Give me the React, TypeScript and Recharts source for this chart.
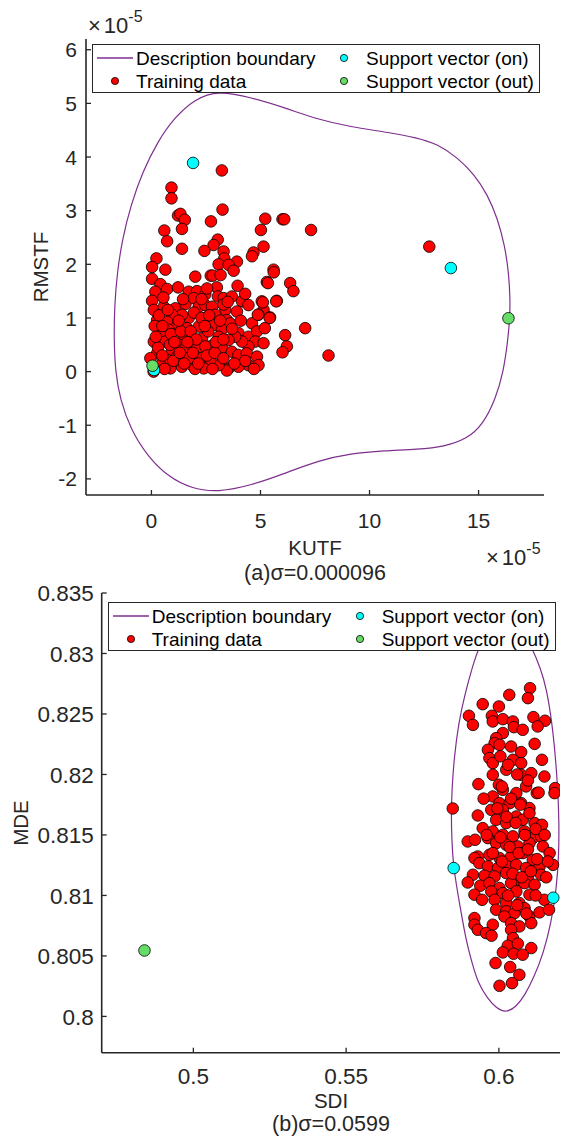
import React from 'react';
import { ScatterChart, Scatter, XAxis, YAxis, Legend } from 'recharts';

// ---- plot (a): KUTF vs RMSTF, both x1e-5 ----
const kutfTicks = [0, 5, 10, 15];
const rmstfTicks = [-2, -1, 0, 1, 2, 3, 4, 5, 6];

const trainA: number[][] = [
  [3.23, 3.75], [0.92, 3.43], [0.92, 3.23], [3.26, 3.02], [1.22, 2.91], [1.33, 2.94], [1.53, 2.83],
  [2.73, 2.8], [5.22, 2.85], [6.01, 2.84], [6.09, 2.84], [7.32, 2.64], [5.02, 2.64], [0.59, 2.63],
  [1.4, 2.66], [0.72, 2.43], [3.04, 2.46], [2.85, 2.36], [2.43, 2.25], [1.4, 2.29], [3.31, 2.24],
  [3.34, 2.11], [3.92, 2.05], [3.08, 2.0], [3.54, 1.99], [5.14, 2.33], [4.68, 2.22], [4.61, 2.15],
  [0.23, 2.11], [0.03, 1.95], [0.64, 1.9], [5.6, 1.9], [12.74, 2.33],
  [2.01, 1.77], [2.72, 1.79], [2.81, 1.79], [3.17, 1.8], [3.77, 1.88], [5.29, 1.67], [6.36, 1.65], [6.51, 1.5],
  [0.03, 1.73], [0.41, 1.63], [0.72, 1.54], [1.22, 1.57], [0.18, 1.49], [1.71, 1.49], [2.09, 1.5],
  [2.47, 1.44], [3.0, 1.57], [3.05, 1.4], [3.31, 1.37], [3.69, 1.4], [4.15, 1.31], [4.45, 1.24],
  [5.06, 1.31], [5.14, 1.15], [5.75, 1.32], [5.44, 1.01], [4.91, 1.06], [4.61, 0.9],
  [0.03, 1.32], [0.11, 1.15], [0.56, 1.21], [1.1, 1.18], [1.56, 1.26], [1.94, 1.37], [2.17, 1.21],
  [2.47, 1.24], [2.78, 1.21], [3.39, 1.15], [3.92, 1.12], [3.46, 0.96], [3.61, 0.9], [2.93, 1.06],
  [2.47, 1.0], [1.71, 1.0], [1.4, 1.06], [0.95, 1.06], [0.26, 0.96], [0.72, 0.93], [1.17, 0.84],
  [1.63, 0.81], [2.17, 0.84], [2.85, 0.87], [3.23, 0.78], [3.99, 0.72], [4.45, 0.65], [4.84, 0.75],
  [5.2, 0.81], [4.76, 0.56], [5.14, 0.53], [4.45, 0.47], [4.15, 0.56], [3.84, 0.65], [3.54, 0.59],
  [3.08, 0.65], [2.7, 0.47], [2.32, 0.62], [1.86, 0.62], [1.48, 0.65], [1.25, 0.5], [0.79, 0.78],
  [0.41, 0.68], [0.11, 0.56], [0.64, 0.56], [0.95, 0.4], [1.56, 0.44], [2.09, 0.44], [2.47, 0.47],
  [3.23, 0.44], [3.69, 0.37], [3.99, 0.31], [4.37, 0.34], [4.84, 0.28], [4.91, 0.12], [4.45, 0.12],
  [3.99, 0.09], [3.54, 0.06], [3.46, 0.02], [3.08, 0.12], [2.7, 0.22], [2.4, 0.06], [2.24, 0.25],
  [1.86, 0.12], [1.71, 0.25], [1.4, 0.09], [1.17, 0.28], [0.87, 0.06], [0.72, 0.22], [0.41, 0.12],
  [0.26, 0.34], [-0.05, 0.25],
  [6.13, 0.68], [6.21, 0.47], [6.01, 0.36], [7.05, 0.81], [8.12, 0.3],
  [5.72, 1.31], [5.11, 1.29], [5.42, 1.0], [4.88, 1.06], [5.34, 1.65], [5.61, 1.85],
  [0.3, 0.45], [0.5, 0.3], [0.6, 0.05], [0.85, 0.5], [1.0, 0.2], [1.3, 0.35], [1.5, 0.15], [1.9, 0.35],
  [2.0, 0.05], [2.55, 0.3], [2.8, 0.05], [2.9, 0.35], [3.3, 0.25], [0.15, 0.85], [0.5, 0.85], [0.9, 0.7],
  [1.35, 0.75], [1.8, 0.75], [2.05, 0.6], [2.6, 0.75], [2.95, 0.55], [3.3, 0.6], [0.35, 1.05], [0.75, 1.15],
  [1.25, 0.95], [1.95, 1.1], [2.3, 1.0], [2.65, 1.05], [3.15, 0.95], [3.3, 1.25], [0.55, 1.38], [1.45, 1.35],
  [2.55, 1.55], [2.3, 1.35], [3.7, 0.8], [4.1, 0.95], [4.3, 0.2], [3.8, 0.15], [4.7, 0.05], [2.15, 0.15],
  [1.05, 0.55], [0.1, 0.0], [0.2, 0.65], [1.65, 0.55], [2.45, 0.85], [3.5, 1.3], [3.95, 1.6], [4.3, 1.45],
];
const svOnA: number[][] = [[1.91, 3.89], [13.73, 1.93], [0.12, 0.03]];
const svOutA: number[][] = [[16.37, 0.995], [0.05, 0.11]];
const boundaryA: number[][] = [
  [3.051, 5.24], [4.577, 5.11], [6.102, 4.92], [7.628, 4.7], [9.153, 4.56], [10.679, 4.47],
  [12.204, 4.36], [13.12, 4.24], [14.035, 3.99], [14.798, 3.68], [15.408, 3.3], [15.866, 2.86],
  [16.2, 2.35], [16.38, 1.853], [16.45, 1.356], [16.43, 0.995], [16.35, 0.609], [16.14, -0.012],
  [15.76, -0.53], [15.2, -0.98], [14.493, -1.25], [13.425, -1.4], [12.204, -1.45], [10.679, -1.475],
  [9.153, -1.525], [7.628, -1.66], [6.102, -1.9], [4.577, -2.12], [3.051, -2.25], [1.831, -2.18],
  [0.763, -1.96], [-0.17, -1.58], [-0.95, -1.08], [-1.44, -0.51], [-1.65, -0.012], [-1.72, 0.609],
  [-1.69, 1.231], [-1.57, 1.853], [-1.33, 2.475], [-0.95, 3.097], [-0.4, 3.73], [0.3, 4.3],
  [1.068, 4.74], [1.983, 5.08],
];

// ---- plot (b): SDI vs MDE ----
const sdiTicks = [0.5, 0.55, 0.6];
const mdeTicks = [0.8, 0.805, 0.81, 0.815, 0.82, 0.825, 0.83, 0.835];

const trainB: number[][] = [
  [0.5849, 0.81719], [0.6102, 0.82713], [0.6095, 0.82631], [0.6034, 0.82658], [0.6, 0.82562],
  [0.5947, 0.82581], [0.5902, 0.82485], [0.5915, 0.8241], [0.5977, 0.82485], [0.598, 0.82438],
  [0.6013, 0.82457], [0.6046, 0.82438], [0.6049, 0.82391], [0.6078, 0.82369], [0.6113, 0.82474],
  [0.6151, 0.82444], [0.6127, 0.82397], [0.6013, 0.82342], [0.5991, 0.823], [0.5986, 0.82259],
  [0.6002, 0.82245], [0.5964, 0.82204], [0.604, 0.82231], [0.6073, 0.82185], [0.6117, 0.82253],
  [0.5969, 0.82135], [0.598, 0.82094], [0.6046, 0.82121], [0.6073, 0.82094], [0.6141, 0.82121],
  [0.6024, 0.82039], [0.598, 0.81997], [0.6073, 0.81997], [0.6106, 0.82011], [0.6149, 0.81983],
  [0.5933, 0.8192], [0.6, 0.81915], [0.6013, 0.81873], [0.6057, 0.81846], [0.6089, 0.81901],
  [0.6124, 0.81846], [0.6184, 0.81887], [0.6182, 0.81846], [0.598, 0.81818], [0.6002, 0.81763],
  [0.6035, 0.81763], [0.6073, 0.81763], [0.61, 0.81722], [0.5975, 0.81708], [0.6013, 0.81708],
  [0.6057, 0.81653], [0.5991, 0.81625], [0.5931, 0.81661], [0.6024, 0.81598], [0.6078, 0.81625],
  [0.6117, 0.81598], [0.6141, 0.81584], [0.5947, 0.81556], [0.598, 0.81529], [0.6013, 0.81501],
  [0.6046, 0.81488], [0.6084, 0.81529], [0.6111, 0.81474], [0.6138, 0.81488], [0.5898, 0.81446],
  [0.5922, 0.8146], [0.5964, 0.81474], [0.5991, 0.81432], [0.6024, 0.81419], [0.6062, 0.81405],
  [0.61, 0.81432], [0.6144, 0.81405], [0.6166, 0.8135], [0.5931, 0.81322], [0.592, 0.81309],
  [0.5969, 0.81336], [0.6002, 0.81309], [0.604, 0.81322], [0.6078, 0.8135], [0.6111, 0.81295],
  [0.6177, 0.81253], [0.5936, 0.81267], [0.5964, 0.8124], [0.6029, 0.8124], [0.6057, 0.81253],
  [0.6089, 0.81226], [0.6133, 0.8124], [0.5997, 0.81226], [0.616, 0.81281], [0.5915, 0.81171],
  [0.5898, 0.81107], [0.5953, 0.81163], [0.5986, 0.81157], [0.6024, 0.81185], [0.6062, 0.81129],
  [0.6095, 0.81157], [0.6138, 0.81171], [0.5939, 0.8108], [0.5969, 0.81102], [0.6002, 0.81061],
  [0.604, 0.81102], [0.6084, 0.81102], [0.6117, 0.81088], [0.592, 0.81006], [0.5945, 0.80964],
  [0.5975, 0.81033], [0.6013, 0.81019], [0.6057, 0.81033], [0.61, 0.81006], [0.6149, 0.80964],
  [0.5986, 0.80964], [0.6024, 0.80937], [0.6067, 0.80937], [0.5991, 0.80882], [0.6024, 0.80868],
  [0.6051, 0.80854], [0.6084, 0.80895], [0.61, 0.80826], [0.6133, 0.8086], [0.6164, 0.80882],
  [0.592, 0.80813], [0.592, 0.80758], [0.5931, 0.80716], [0.598, 0.80758], [0.5958, 0.80689],
  [0.5976, 0.80667], [0.6018, 0.80826], [0.604, 0.80771], [0.6067, 0.80744], [0.6106, 0.80771],
  [0.604, 0.80716], [0.6046, 0.80647], [0.6029, 0.80584], [0.6062, 0.80601], [0.6106, 0.80565],
  [0.6013, 0.80529], [0.6048, 0.80518], [0.6078, 0.8051], [0.5989, 0.80441], [0.6037, 0.80408],
  [0.6067, 0.80344], [0.6002, 0.80253], [0.6043, 0.80275],
  [0.6005, 0.8215], [0.603, 0.8208], [0.606, 0.82], [0.6095, 0.8195], [0.601, 0.819], [0.604, 0.818],
  [0.607, 0.8175], [0.61, 0.8168], [0.5995, 0.8172], [0.6025, 0.8165], [0.6055, 0.816], [0.6085, 0.815],
  [0.612, 0.8155], [0.6005, 0.8148], [0.6035, 0.814], [0.6065, 0.8135], [0.6095, 0.8138], [0.6125, 0.813],
  [0.598, 0.8135], [0.601, 0.8128], [0.6045, 0.8118], [0.6075, 0.8115], [0.6105, 0.812], [0.603, 0.81],
  [0.606, 0.8092], [0.609, 0.8085], [0.612, 0.81], [0.596, 0.815], [0.615, 0.815], [0.6155, 0.8115],
  [0.595, 0.818], [0.613, 0.8185],
];
const svOnB: number[][] = [[0.5852, 0.81226], [0.6178, 0.80981]];
const svOutB: number[][] = [[0.484, 0.80545]];
const boundaryB: number[][] = [
  [0.6018, 0.8329], [0.6067, 0.83225], [0.6108, 0.8305], [0.6136, 0.8288], [0.6156, 0.8271],
  [0.6174, 0.82424], [0.6185, 0.82149], [0.6193, 0.81873], [0.6197, 0.81598], [0.6196, 0.81322],
  [0.6188, 0.81047], [0.6171, 0.80771], [0.6145, 0.80515], [0.6114, 0.8032], [0.6086, 0.8018],
  [0.6057, 0.8008], [0.6024, 0.8003], [0.5991, 0.80068], [0.5962, 0.80152], [0.5933, 0.80268],
  [0.5912, 0.80441], [0.5892, 0.80634], [0.5873, 0.80909], [0.5851, 0.81226], [0.5846, 0.8146],
  [0.5844, 0.81653], [0.5846, 0.81873], [0.5854, 0.82149], [0.5868, 0.82424], [0.5888, 0.82655],
  [0.5912, 0.8288], [0.5937, 0.83075], [0.5975, 0.8323],
];

const FONT = '"Liberation Sans", Arial, Helvetica, sans-serif';
const INK = '#262626';
const PURPLE = '#7e2f8e';
const RED = '#ff0000';
const CYAN = '#00ffff';
const GREEN = '#66dd66';

const pts = (arr: number[][]) => arr.map(([x, y]) => ({ x, y }));

const dot = (fill: string) => (p: any) => (
  <circle cx={p.cx} cy={p.cy} r={5.8} fill={fill} stroke="#000" strokeWidth={0.8} />
);
const noDot = () => <g />;

const bottomTick = (fs: number, base: number) => (p: any) => (
  <g>
    <line x1={p.x} x2={p.x} y1={p.y} y2={p.y - 5} stroke={INK} strokeWidth={1.3} />
    <text x={p.x} y={p.y + base} textAnchor="middle" fontSize={fs} fill={INK} fontFamily={FONT}>
      {String(p.payload.value)}
    </text>
  </g>
);
const leftTick = (fs: number, gap: number) => (p: any) => (
  <g>
    <line x1={p.x} x2={p.x + 5} y1={p.y} y2={p.y} stroke={INK} strokeWidth={1.3} />
    <text x={p.x - gap} y={p.y} dy="0.36em" textAnchor="end" fontSize={fs} fill={INK} fontFamily={FONT}>
      {String(p.payload.value)}
    </text>
  </g>
);
const topTick = (p: any) => <line x1={p.x} x2={p.x} y1={p.y} y2={p.y + 5} stroke={INK} strokeWidth={1.3} />;
const rightTick = (p: any) => <line x1={p.x} x2={p.x - 5} y1={p.y} y2={p.y} stroke={INK} strokeWidth={1.3} />;

const axisLine = { stroke: INK, strokeWidth: 1.6 };

const LegendBox = () => {
  const txt: React.CSSProperties = { position: 'absolute', fontSize: 19, lineHeight: '19px', color: '#000', whiteSpace: 'nowrap' };
  const mark = (fill: string, left: number, top: number) => (
    <svg style={{ position: 'absolute', left: left - 5, top: top - 5 }} width={10} height={10}>
      <circle cx={5} cy={5} r={3.6} fill={fill} stroke="#000" strokeWidth={0.8} />
    </svg>
  );
  return (
    <div style={{ position: 'relative', width: 446, height: 47, border: `1.3px solid ${INK}`, background: '#fff', fontFamily: FONT }}>
      <svg style={{ position: 'absolute', left: 4, top: 12 }} width={36} height={2}>
        <line x1={0} x2={36} y1={1} y2={1} stroke={PURPLE} strokeWidth={1.3} />
      </svg>
      <div style={{ ...txt, left: 43, top: 4 }}>Description boundary</div>
      {mark(CYAN, 251, 13)}
      <div style={{ ...txt, left: 273, top: 4 }}>Support vector (on)</div>
      {mark(RED, 22, 36)}
      <div style={{ ...txt, left: 43, top: 27 }}>Training data</div>
      {mark(GREEN, 251, 36)}
      <div style={{ ...txt, left: 273, top: 27 }}>Support vector (out)</div>
    </div>
  );
};

const abs = (left: number, top: number, fs: number, extra: React.CSSProperties = {}): React.CSSProperties => ({
  position: 'absolute', left, top, fontSize: fs, lineHeight: `${fs}px`, color: INK, fontFamily: FONT, whiteSpace: 'nowrap', ...extra,
});

const Exponent = ({ left, baseline }: { left: number; baseline: number }) => (
  <div style={abs(left, baseline - 0.8465 * 22, 22)}>
    <span style={{ marginRight: 3 }}>×</span>10
    <span style={{ fontSize: 16, position: 'relative', top: -11 }}>-5</span>
  </div>
);

export default function App() {
  return (
    <div style={{ position: 'absolute', left: 0, top: 0, width: 561, height: 1138, background: '#fff', fontFamily: FONT }}>
      <div style={{ position: 'absolute', left: 0, top: 0 }}>
        <ScatterChart width={561} height={560} margin={{ top: 39, right: 17, bottom: 25, left: 26 }}>
          <XAxis type="number" dataKey="x" domain={[-3, 18]} ticks={kutfTicks} interval={0} allowDataOverflow
            height={40} tickSize={0} tickMargin={0} tickLine={false} axisLine={axisLine} tick={bottomTick(21, 33)} />
          <XAxis xAxisId="top" orientation="top" type="number" dataKey="x" domain={[-3, 18]} ticks={kutfTicks} interval={0}
            allowDataOverflow height={0} tickSize={0} tickMargin={0} tickLine={false} axisLine={axisLine} tick={topTick} />
          <YAxis type="number" dataKey="y" domain={[-2.3, 6.2]} ticks={rmstfTicks} interval={0} allowDataOverflow
            width={60} tickSize={0} tickMargin={0} tickLine={false} axisLine={axisLine} tick={leftTick(21, 9)} />
          <YAxis yAxisId="right" orientation="right" type="number" dataKey="y" domain={[-2.3, 6.2]} ticks={rmstfTicks}
            interval={0} allowDataOverflow width={0} tickSize={0} tickMargin={0} tickLine={false} axisLine={axisLine} tick={rightTick} />
          <Scatter name="Description boundary" data={pts(boundaryA)} line={{ stroke: PURPLE, strokeWidth: 1.2 }}
            lineJointType="basisClosed" shape={noDot} isAnimationActive={false} />
          <Scatter name="Training data" data={pts(trainA)} shape={dot(RED)} isAnimationActive={false} />
          <Scatter name="Support vector (on)" data={pts(svOnA)} shape={dot(CYAN)} isAnimationActive={false} />
          <Scatter name="Support vector (out)" data={pts(svOutA)} shape={dot(GREEN)} isAnimationActive={false} />
          <Legend layout="horizontal" verticalAlign="middle" align="center" content={() => <LegendBox />}
            wrapperStyle={{ position: 'absolute', left: 92, top: 44, width: 448, height: 49 }} />
        </ScatterChart>
      </div>

      <div style={{ position: 'absolute', left: 0, top: 560 }}>
        <ScatterChart width={561} height={578} margin={{ top: 33, right: 1, bottom: 45.3, left: 41.7 }}>
          <XAxis type="number" dataKey="x" domain={[0.47, 0.62]} ticks={sdiTicks} interval={0} allowDataOverflow
            height={40} tickSize={0} tickMargin={0} tickLine={false} axisLine={axisLine} tick={bottomTick(22.5, 31)} />
          <XAxis xAxisId="top" orientation="top" type="number" dataKey="x" domain={[0.47, 0.62]} ticks={sdiTicks} interval={0}
            allowDataOverflow height={0} tickSize={0} tickMargin={0} tickLine={false} axisLine={axisLine} tick={topTick} />
          <YAxis type="number" dataKey="y" domain={[0.797, 0.835]} ticks={mdeTicks} interval={0} allowDataOverflow
            width={60} tickSize={0} tickMargin={0} tickLine={false} axisLine={axisLine} tick={leftTick(22.5, 8)} />
          <YAxis yAxisId="right" orientation="right" type="number" dataKey="y" domain={[0.797, 0.835]} ticks={mdeTicks}
            interval={0} allowDataOverflow width={0} tickSize={0} tickMargin={0} tickLine={false} axisLine={axisLine} tick={rightTick} />
          <Scatter name="Description boundary" data={pts(boundaryB)} line={{ stroke: PURPLE, strokeWidth: 1.2 }}
            lineJointType="basisClosed" shape={noDot} isAnimationActive={false} />
          <Scatter name="Training data" data={pts(trainB)} shape={dot(RED)} isAnimationActive={false} />
          <Scatter name="Support vector (on)" data={pts(svOnB)} shape={dot(CYAN)} isAnimationActive={false} />
          <Scatter name="Support vector (out)" data={pts(svOutB)} shape={dot(GREEN)} isAnimationActive={false} />
          <Legend layout="horizontal" verticalAlign="middle" align="center" content={() => <LegendBox />}
            wrapperStyle={{ position: 'absolute', left: 107.7, top: 41.7, width: 448, height: 49 }} />
        </ScatterChart>
      </div>

      <Exponent left={88} baseline={34} />
      <Exponent left={486} baseline={566} />
      <div style={abs(41, 267, 20.5, { transform: 'translate(-50%, -50%) rotate(-90deg)' })}>RMSTF</div>
      <div style={abs(315, 538, 20.5, { transform: 'translateX(-50%)' })}>KUTF</div>
      <div style={abs(315, 563.4, 21.5, { transform: 'translateX(-50%)' })}>(a)σ=0.000096</div>
      <div style={abs(21, 823, 20.5, { transform: 'translate(-50%, -50%) rotate(-90deg)' })}>MDE</div>
      <div style={abs(331, 1091, 20.5, { transform: 'translateX(-50%)' })}>SDI</div>
      <div style={abs(331, 1114.4, 21.5, { transform: 'translateX(-50%)' })}>(b)σ=0.0599</div>
    </div>
  );
}
